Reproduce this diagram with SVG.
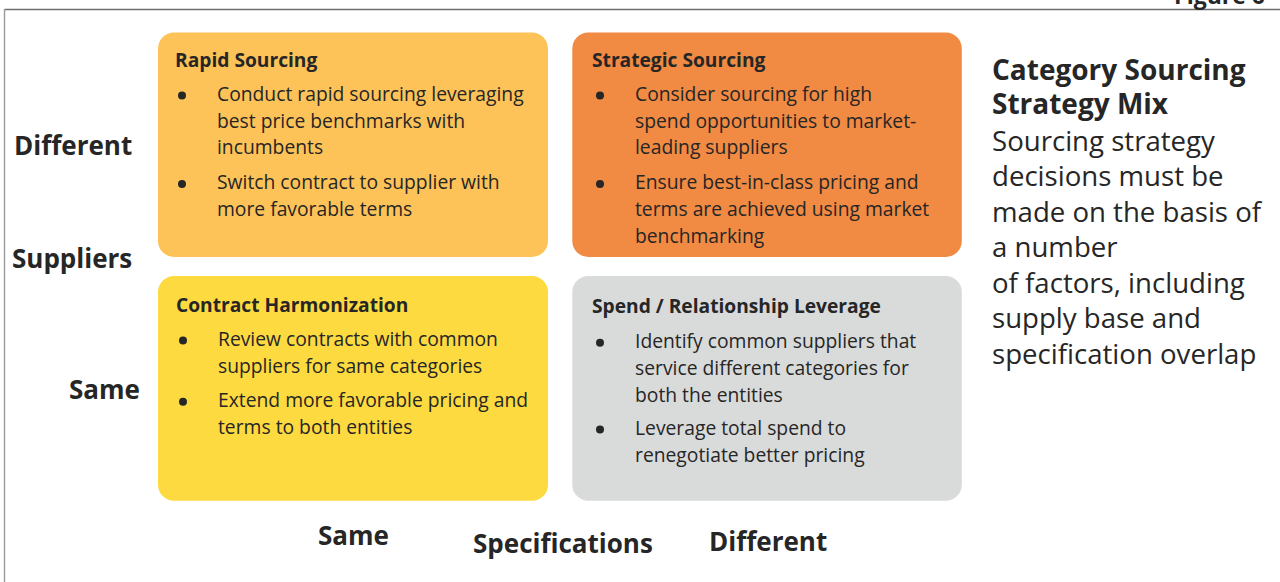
<svg xmlns="http://www.w3.org/2000/svg" width="1280" height="582" viewBox="0 0 1280 582">
<style>
  text { font-family: "Open Sans", "Noto Sans", "Liberation Sans", sans-serif; fill: #262626; }
  .title { font-weight: 700; font-size: 19.2px; }
  .body { font-size: 19.3px; }
  .axis { font-weight: 700; font-size: 26px; }
  .side-title { font-weight: 700; font-size: 28px; }
  .side-body { font-size: 27.6px; }
  .dot { fill: #262626; }
</style>
<rect x="0" y="0" width="1280" height="582" fill="#ffffff"/>
<g id="frame">
  <line x1="4.5" y1="9.5" x2="1280" y2="9.5" stroke="#6e6e6e" stroke-width="1.4"/>
  <line x1="4.5" y1="9" x2="4.5" y2="582" stroke="#9a9a9a" stroke-width="1.4"/>
  <text x="1265" y="4" text-anchor="end" style="font-weight:700;font-size:23px">Figure 6</text>
</g>
<g id="rapid-sourcing">
  <rect x="158" y="32.5" width="390" height="224.5" rx="16" fill="#FDC358"/>
  <text class="title" x="175" y="66.7">Rapid Sourcing</text>
  <circle class="dot" cx="182" cy="95.5" r="4"/>
  <circle class="dot" cx="182" cy="184" r="4"/>
  <text class="body">
    <tspan x="217" y="101">Conduct rapid sourcing leveraging</tspan>
    <tspan x="217" y="127.7">best price benchmarks with</tspan>
    <tspan x="217" y="154.3">incumbents</tspan>
    <tspan x="217" y="189.3">Switch contract to supplier with</tspan>
    <tspan x="217" y="216">more favorable terms</tspan>
  </text>
</g>
<g id="strategic-sourcing">
  <rect x="572.3" y="32.5" width="389.5" height="224.5" rx="16" fill="#F18A42"/>
  <text class="title" x="592" y="66.7">Strategic Sourcing</text>
  <circle class="dot" cx="600" cy="95.5" r="4"/>
  <circle class="dot" cx="600" cy="184" r="4"/>
  <text class="body">
    <tspan x="635" y="101">Consider sourcing for high</tspan>
    <tspan x="635" y="127.7">spend opportunities to market-</tspan>
    <tspan x="635" y="154.3">leading suppliers</tspan>
    <tspan x="635" y="189.3">Ensure best-in-class pricing and</tspan>
    <tspan x="635" y="216">terms are achieved using market</tspan>
    <tspan x="635" y="242.7">benchmarking</tspan>
  </text>
</g>
<g id="contract-harmonization">
  <rect x="158" y="276" width="390" height="224.7" rx="16" fill="#FDDA40"/>
  <text class="title" x="176" y="311.7">Contract Harmonization</text>
  <circle class="dot" cx="183" cy="340.5" r="4"/>
  <circle class="dot" cx="183" cy="401.8" r="4"/>
  <text class="body">
    <tspan x="218" y="346">Review contracts with common</tspan>
    <tspan x="218" y="372.7">suppliers for same categories</tspan>
    <tspan x="218" y="407.3">Extend more favorable pricing and</tspan>
    <tspan x="218" y="434">terms to both entities</tspan>
  </text>
</g>
<g id="spend-relationship-leverage">
  <rect x="572.3" y="276" width="389.5" height="224.7" rx="16" fill="#D9DADA"/>
  <text class="title" x="592" y="313.3">Spend / Relationship Leverage</text>
  <circle class="dot" cx="600" cy="342.8" r="4"/>
  <circle class="dot" cx="600" cy="429.5" r="4"/>
  <text class="body">
    <tspan x="635" y="348.3">Identify common suppliers that</tspan>
    <tspan x="635" y="375">service different categories for</tspan>
    <tspan x="635" y="401.7">both the entities</tspan>
    <tspan x="635" y="435">Leverage total spend to</tspan>
    <tspan x="635" y="461.7">renegotiate better pricing</tspan>
  </text>
</g>
<g id="y-axis-labels">
  <text class="axis" x="14" y="155">Different</text>
  <text class="axis" x="12" y="268">Suppliers</text>
  <text class="axis" x="69" y="398.5">Same</text>
</g>
<g id="x-axis-labels">
  <text class="axis" x="318" y="545">Same</text>
  <text class="axis" x="473" y="553">Specifications</text>
  <text class="axis" x="709" y="550.5">Different</text>
</g>
<g id="side-note">
  <text class="side-title">
    <tspan x="992" y="79.5">Category Sourcing</tspan>
    <tspan x="992" y="114">Strategy Mix</tspan>
  </text>
  <text class="side-body">
    <tspan x="992" y="150.5">Sourcing strategy</tspan>
    <tspan x="992" y="186">decisions must be</tspan>
    <tspan x="992" y="221.5">made on the basis of</tspan>
    <tspan x="992" y="257">a number</tspan>
    <tspan x="992" y="292.5">of factors, including</tspan>
    <tspan x="992" y="328">supply base and</tspan>
    <tspan x="992" y="363.5">specification overlap</tspan>
  </text>
</g>
</svg>
